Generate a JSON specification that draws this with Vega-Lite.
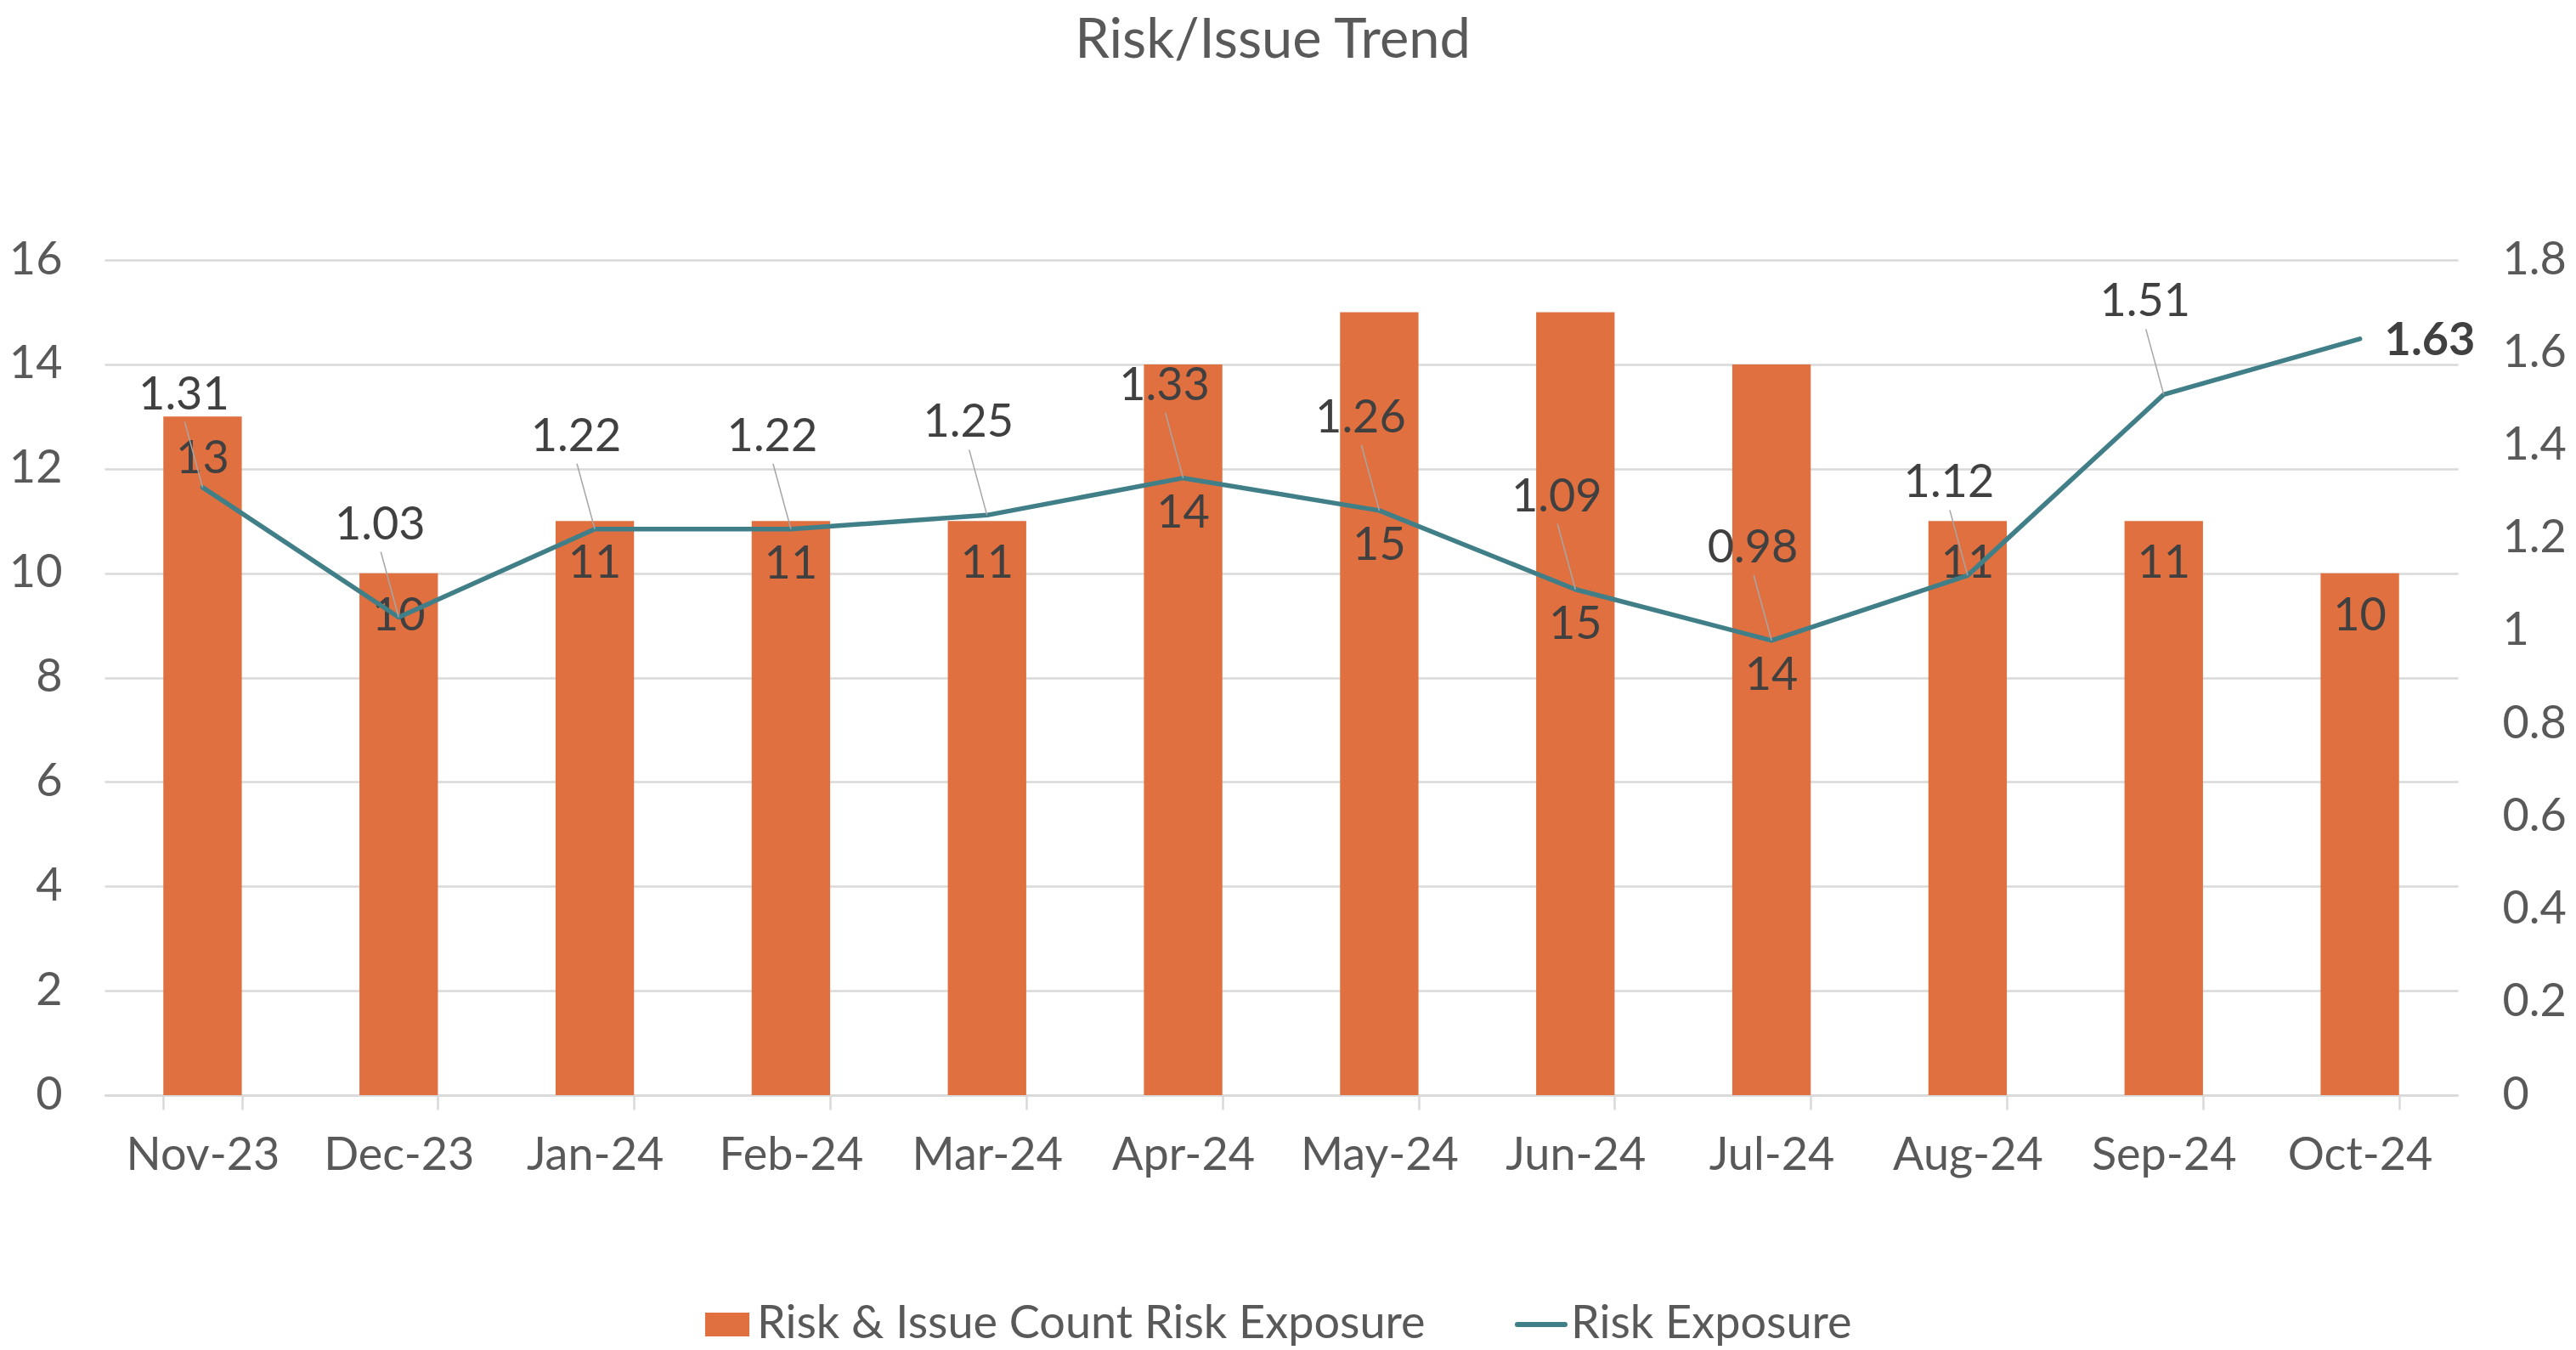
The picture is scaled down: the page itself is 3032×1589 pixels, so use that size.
{
  "$schema": "https://vega.github.io/schema/vega-lite/v6.json",
  "width": 2770,
  "height": 983,
  "autosize": {"type": "none"},
  "padding": {"left": 123, "top": 306, "right": 139, "bottom": 300},
  "background": "#ffffff",
  "title": {
    "text": "Risk/Issue Trend",
    "fontSize": 65,
    "font": "Lato",
    "fontWeight": "normal",
    "color": "#595959",
    "anchor": "middle",
    "offset": 197,
    "dx": -10
  },
  "data": {
    "values": [
      {"month": "Nov-23", "count": 13, "exposure": 1.31},
      {"month": "Dec-23", "count": 10, "exposure": 1.03},
      {"month": "Jan-24", "count": 11, "exposure": 1.22},
      {"month": "Feb-24", "count": 11, "exposure": 1.22},
      {"month": "Mar-24", "count": 11, "exposure": 1.25},
      {"month": "Apr-24", "count": 14, "exposure": 1.33},
      {"month": "May-24", "count": 15, "exposure": 1.26},
      {"month": "Jun-24", "count": 15, "exposure": 1.09},
      {"month": "Jul-24", "count": 14, "exposure": 0.98},
      {"month": "Aug-24", "count": 11, "exposure": 1.12},
      {"month": "Sep-24", "count": 11, "exposure": 1.51},
      {"month": "Oct-24", "count": 10, "exposure": 1.63}
    ]
  },
  "encoding": {
    "x": {
      "field": "month",
      "type": "nominal",
      "sort": null,
      "scale": {"paddingInner": 0.6, "paddingOuter": 0.3},
      "axis": {
        "title": null,
        "labelAngle": 0,
        "labelFontSize": 54,
        "labelFont": "Lato",
        "labelColor": "#595959",
        "labelPadding": 27,
        "labelLimit": 600,
        "tickBand": "extent",
        "ticks": true,
        "tickSize": 17,
        "tickColor": "#d9d9d9",
        "tickWidth": 2.5,
        "domainColor": "#d9d9d9",
        "domainWidth": 2.5,
        "grid": false
      }
    }
  },
  "layer": [
    {
      "encoding": {
        "y": {
          "field": "count",
          "type": "quantitative",
          "scale": {"domain": [0, 16], "nice": false},
          "axis": {
            "orient": "left",
            "title": null,
            "values": [0, 2, 4, 6, 8, 10, 12, 14, 16],
            "grid": true,
            "gridColor": "#d9d9d9",
            "gridWidth": 2.5,
            "domain": false,
            "ticks": false,
            "labelPadding": 50,
            "labelFontSize": 54,
            "labelFont": "Lato",
            "labelColor": "#595959"
          }
        }
      },
      "layer": [
        {
          "mark": {"type": "bar"},
          "encoding": {
            "color": {
              "datum": "Risk & Issue Count Risk Exposure",
              "type": "nominal",
              "scale": {
                "domain": ["Risk & Issue Count Risk Exposure", "Risk Exposure"],
                "range": ["#E0703F", "#417F88"]
              },
              "legend": {
                "orient": "none",
                "legendX": 706,
                "legendY": 1226,
                "direction": "horizontal",
                "title": null,
                "labelFontSize": 54,
                "labelFont": "Lato",
                "labelColor": "#595959",
                "labelOffset": 8,
                "labelLimit": 2000,
                "columnPadding": 96,
                "symbolSize": 3136,
                "symbolOffset": 0,
                "padding": 0,
                "encode": {
                  "symbols": {
                    "update": {
                      "shape": {"signal": "datum.value === 'Risk Exposure' ? 'stroke' : 'M-0.93,-0.5H0.93V0.5H-0.93Z'"},
                      "size": {"value": 3136},
                      "strokeWidth": {"signal": "datum.value === 'Risk Exposure' ? 6 : 0"},
                      "fill": {"scale": "color", "field": "value"},
                      "stroke": {"scale": "color", "field": "value"},
                      "strokeCap": {"value": "round"},
                      "opacity": {"value": 1}
                    }
                  }
                }
              }
            }
          }
        },
        {
          "transform": [{"filter": {"not": {"field": "month", "oneOf": ["Feb-24", "Apr-24", "May-24", "Jun-24", "Jul-24"]}}}],
          "mark": {
            "type": "text",
            "baseline": "alphabetic",
            "align": "center",
            "dy": 67,
            "fontSize": 54,
            "font": "Lato",
            "color": "#404040"
          },
          "encoding": {"text": {"field": "count", "type": "quantitative"}}
        }
      ]
    },
    {
      "encoding": {
        "y": {
          "field": "exposure",
          "type": "quantitative",
          "scale": {"domain": [0, 1.8], "nice": false},
          "axis": {
            "orient": "right",
            "title": null,
            "values": [0, 0.2, 0.4, 0.6, 0.8, 1, 1.2, 1.4, 1.6, 1.8],
            "format": "~g",
            "grid": false,
            "domain": false,
            "ticks": false,
            "labelPadding": 52,
            "labelFontSize": 54,
            "labelFont": "Lato",
            "labelColor": "#595959"
          }
        }
      },
      "layer": [
        {
          "mark": {"type": "line", "strokeWidth": 5.5, "strokeJoin": "round", "strokeCap": "round"},
          "encoding": {"color": {"datum": "Risk Exposure", "type": "nominal"}}
        },
        {
          "transform": [{"filter": "datum.month !== 'Oct-24'"}],
          "mark": {"type": "rule", "color": "#a6a6a6", "strokeWidth": 1.5, "x2Offset": -21, "y2Offset": -77},
          "encoding": {
            "x2": {"field": "month"},
            "y2": {"field": "exposure"}
          }
        },
        {
          "transform": [{"filter": {"field": "month", "oneOf": ["Feb-24", "Apr-24", "May-24", "Jun-24", "Jul-24"]}}],
          "mark": {
            "type": "text",
            "baseline": "alphabetic",
            "align": "center",
            "dy": 58,
            "fontSize": 54,
            "font": "Lato",
            "color": "#404040"
          },
          "encoding": {"text": {"field": "count", "type": "quantitative"}}
        },
        {
          "transform": [{"filter": "datum.month !== 'Oct-24'"}],
          "mark": {
            "type": "text",
            "baseline": "alphabetic",
            "align": "center",
            "dx": -22,
            "dy": -92,
            "fontSize": 54,
            "font": "Lato",
            "color": "#404040"
          },
          "encoding": {"text": {"field": "exposure", "type": "quantitative", "format": ".2f"}}
        },
        {
          "transform": [{"filter": "datum.month === 'Oct-24'"}],
          "mark": {
            "type": "text",
            "baseline": "alphabetic",
            "align": "left",
            "dx": 29,
            "dy": 19,
            "fontSize": 54,
            "font": "Lato",
            "fontWeight": "bold",
            "color": "#404040"
          },
          "encoding": {"text": {"field": "exposure", "type": "quantitative", "format": ".2f"}}
        }
      ]
    }
  ],
  "resolve": {"scale": {"y": "independent"}},
  "config": {
    "view": {"stroke": null},
    "font": "Lato"
  }
}
